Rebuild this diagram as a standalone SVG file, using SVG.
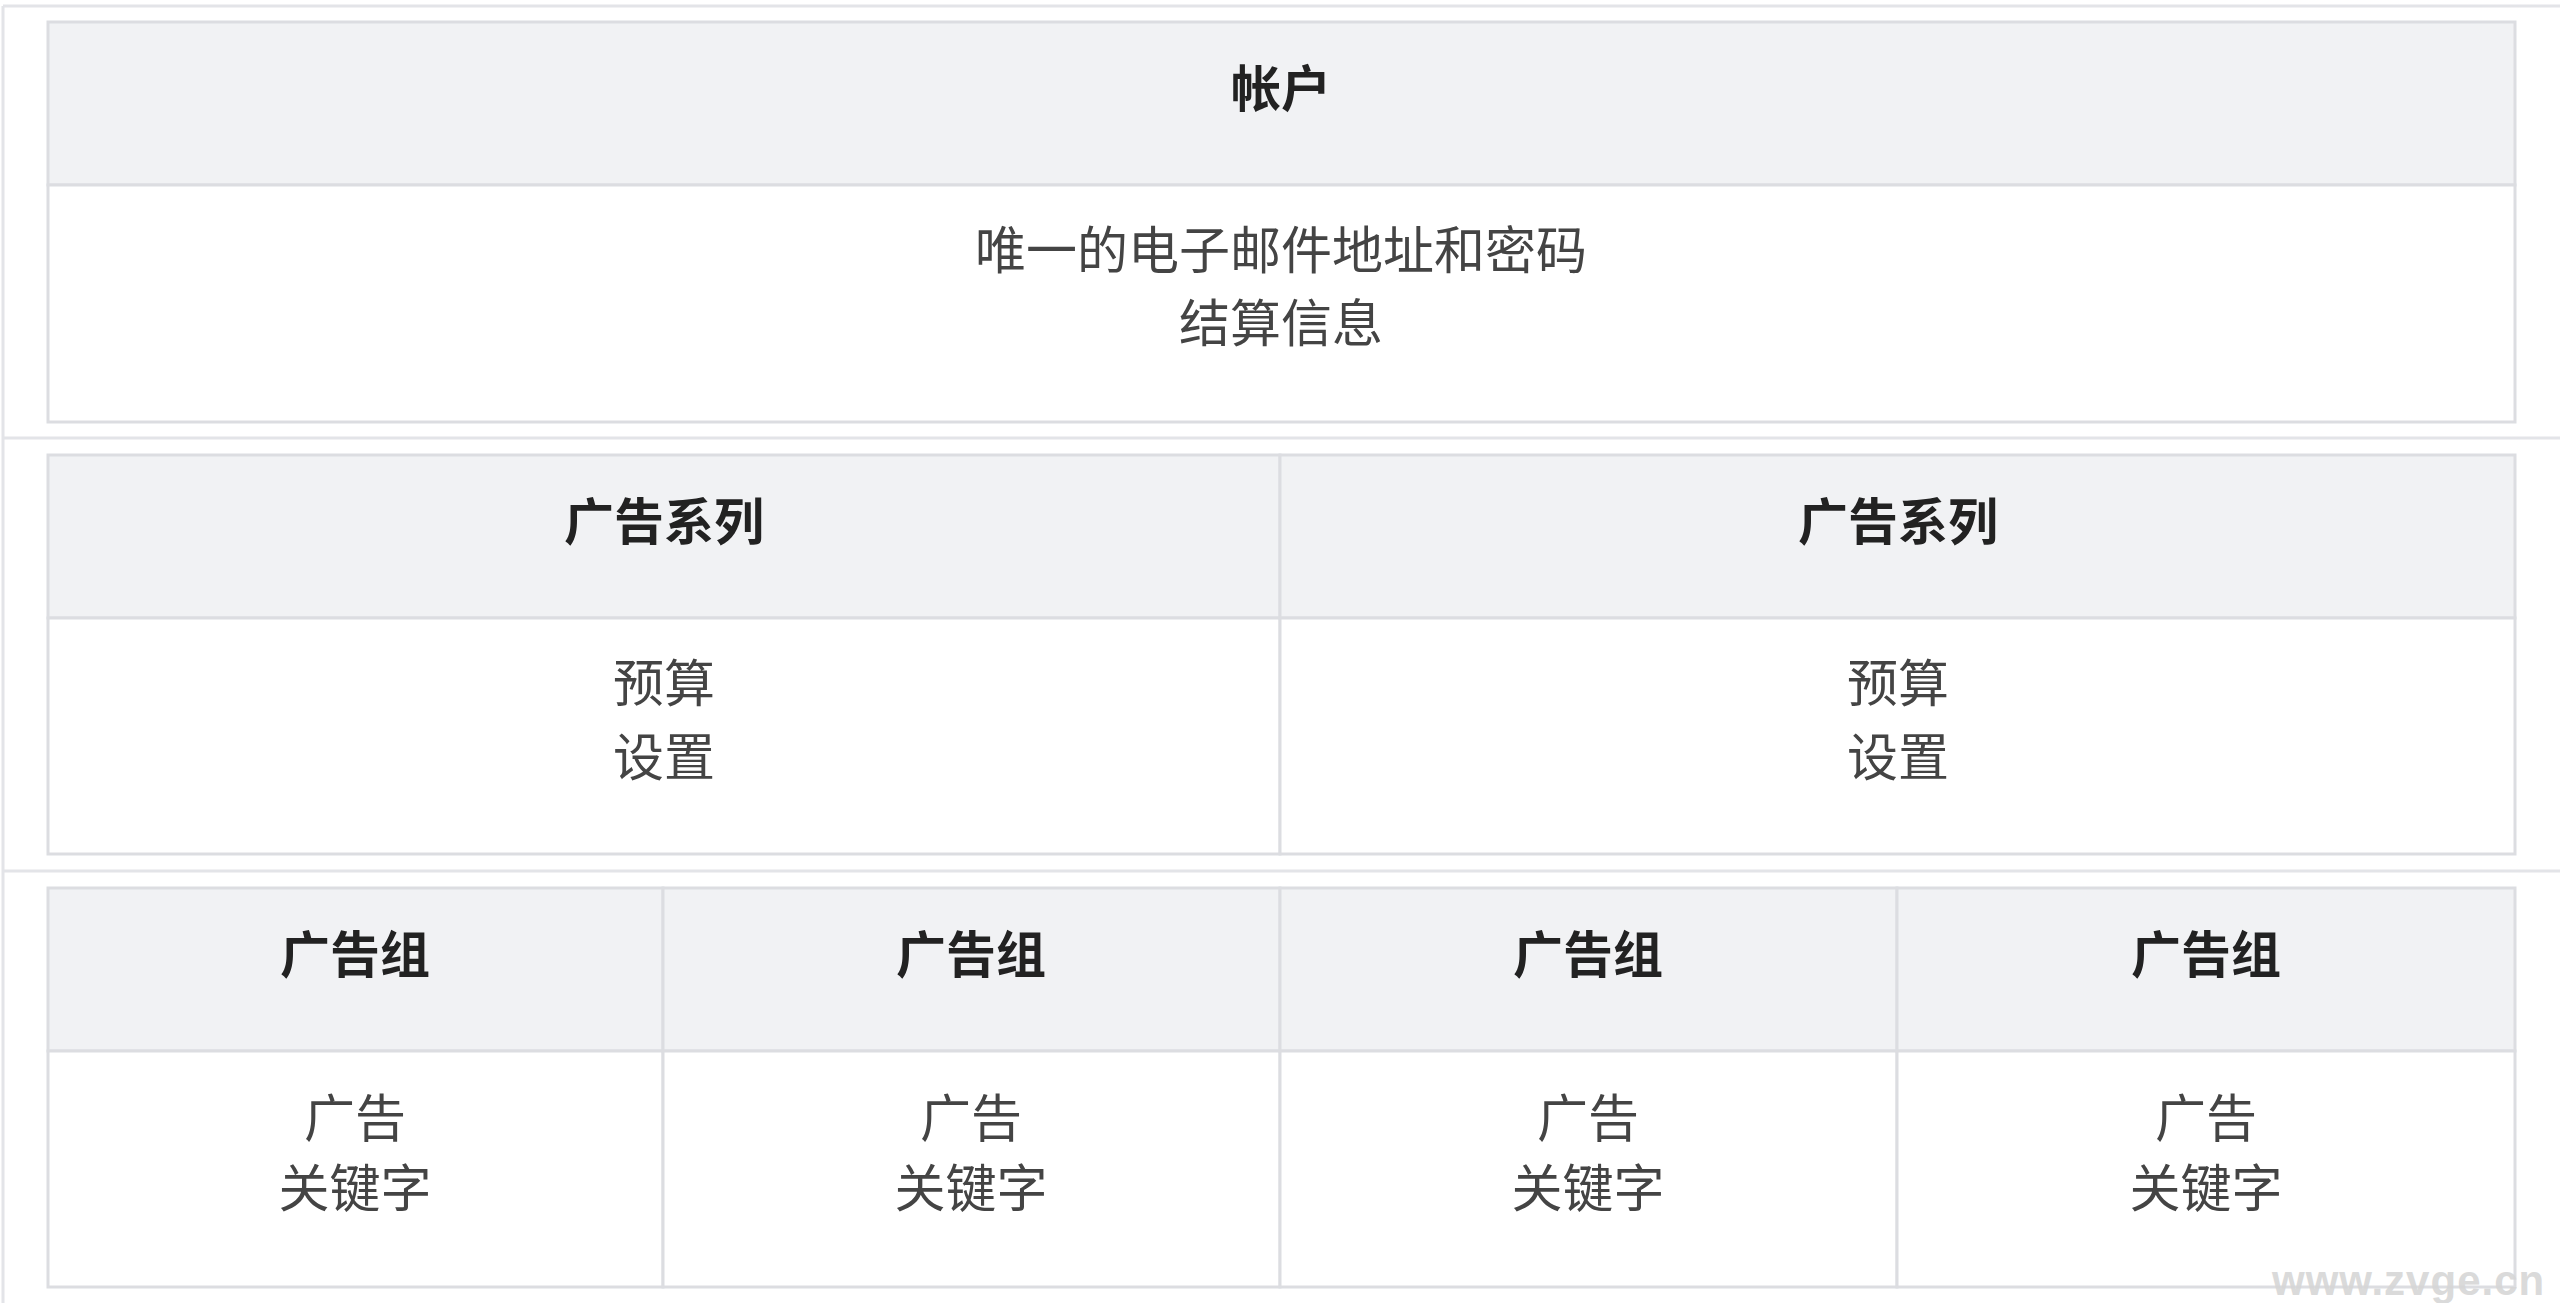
<svg xmlns="http://www.w3.org/2000/svg" width="2560" height="1303" viewBox="0 0 2560 1303">
<style>
.frame{fill:none;stroke:#e3e4e8;stroke-width:3}
.hd{fill:#f1f2f4;stroke:#dcdde1;stroke-width:3}
.bd{fill:#ffffff;stroke:#dcdde1;stroke-width:3}
.ht{font-family:"Noto Sans CJK SC","Microsoft YaHei",sans-serif;font-size:50px;font-weight:bold;fill:#222222;text-anchor:middle}
.bt{font-family:"Noto Sans CJK SC","Microsoft YaHei",sans-serif;font-size:51px;fill:#444444;text-anchor:middle}
.wm{font-family:"Liberation Sans",Arial,sans-serif;font-size:42px;font-weight:bold;fill:#d6d6d6;letter-spacing:1px;opacity:0.9}
</style>
<rect width="2560" height="1303" fill="#ffffff"/>
<g id="frame">
<line class="frame" x1="3" y1="6" x2="2560" y2="6"/>
<line class="frame" x1="3" y1="6" x2="3" y2="1303"/>
<line class="frame" x1="3" y1="438" x2="2560" y2="438"/>
<line class="frame" x1="3" y1="871" x2="2560" y2="871"/>
</g>
<g id="account">
<rect class="hd" x="48" y="22" width="2467" height="163"/>
<rect class="bd" x="48" y="185" width="2467" height="237"/>
<text class="ht" x="1281" y="107">帐户</text>
<text class="bt" x="1281" y="269">唯一的电子邮件地址和密码</text>
<text class="bt" x="1281" y="342">结算信息</text>
</g>
<g id="campaign1">
<rect class="hd" x="48" y="455" width="1232" height="163"/>
<rect class="bd" x="48" y="618" width="1232" height="236"/>
<text class="ht" x="664" y="540">广告系列</text>
<text class="bt" x="664" y="702">预算</text>
<text class="bt" x="664" y="776">设置</text>
</g>
<g id="campaign2">
<rect class="hd" x="1280" y="455" width="1235" height="163"/>
<rect class="bd" x="1280" y="618" width="1235" height="236"/>
<text class="ht" x="1898" y="540">广告系列</text>
<text class="bt" x="1898" y="702">预算</text>
<text class="bt" x="1898" y="776">设置</text>
</g>
<g id="adgroup1">
<rect class="hd" x="48" y="888" width="615" height="163"/>
<rect class="bd" x="48" y="1051" width="615" height="236"/>
<text class="ht" x="355" y="973">广告组</text>
<text class="bt" x="355" y="1137">广告</text>
<text class="bt" x="355" y="1207">关键字</text>
</g>
<g id="adgroup2">
<rect class="hd" x="663" y="888" width="617" height="163"/>
<rect class="bd" x="663" y="1051" width="617" height="236"/>
<text class="ht" x="971" y="973">广告组</text>
<text class="bt" x="971" y="1137">广告</text>
<text class="bt" x="971" y="1207">关键字</text>
</g>
<g id="adgroup3">
<rect class="hd" x="1280" y="888" width="617" height="163"/>
<rect class="bd" x="1280" y="1051" width="617" height="236"/>
<text class="ht" x="1588" y="973">广告组</text>
<text class="bt" x="1588" y="1137">广告</text>
<text class="bt" x="1588" y="1207">关键字</text>
</g>
<g id="adgroup4">
<rect class="hd" x="1897" y="888" width="618" height="163"/>
<rect class="bd" x="1897" y="1051" width="618" height="236"/>
<text class="ht" x="2206" y="973">广告组</text>
<text class="bt" x="2206" y="1137">广告</text>
<text class="bt" x="2206" y="1207">关键字</text>
</g>
<g id="connectors"></g>
<text class="wm" x="2272" y="1295">www.zvge.cn</text>
</svg>
